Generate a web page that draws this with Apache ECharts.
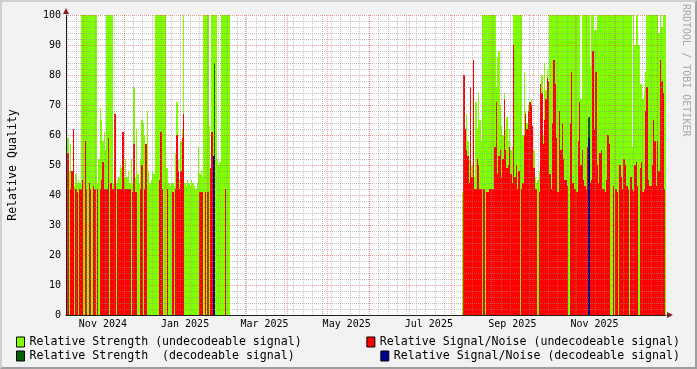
<!DOCTYPE html>
<html><head><meta charset="utf-8">
<script src="https://cdn.jsdelivr.net/npm/echarts@6/dist/echarts.min.js"></script>
<style>
html,body{margin:0;padding:0;background:#f2f2f2;}
#c{width:697px;height:369px;position:absolute;left:0;top:0;}
#frame{position:absolute;left:0;top:0;width:697px;height:369px;box-sizing:border-box;border-style:solid;border-width:2px;border-color:#cfcfcf #9e9e9e #9e9e9e #cfcfcf;pointer-events:none;}
</style></head><body>
<div id="c"></div><div id="frame"></div>
<script>
// ---- data (daily values) ----
const seg1Start = '2024-10-20';
const strength1 = [59,48,57,44,62,43,47,44,45,44,100,100,100,100,100,100,100,100,100,100,100,100,
  44,52,69,65,58,61,55,100,100,100,100,100,44,67,44,45,46,50,49,61,46,52,46,48,44,52,44,76,46,62,47,44,52,65,64,60,57,68,48,44,45,48,47,
  100,100,100,100,100,100,100,100,49,49,44,43,44,44,43,54,71,52,45,58,62,100,44,43,45,44,43,45,44,43,42,44,56,47,48,46,100,100,100,100,63,45,100,100,100,100,52,50,51,100,100,100,100,100,100,100];
const snr1 = [54,0,42,48,62,0,42,41,0,42,42,45,0,58,42,0,44,42,0,43,42,0,
  42,0,42,45,51,42,42,42,59,0,44,42,42,67,0,42,42,42,42,61,42,42,42,42,42,0,41,57,41,41,0,0,42,50,0,42,57,0,0,0,0,0,0,
  0,0,0,45,61,42,0,0,0,42,0,0,0,41,0,42,60,48,42,48,59,67,0,0,0,0,0,0,0,0,0,0,0,41,41,41,0,41,0,41,0,49,61,0,0,0,0,0,0,0,0,0,42,0,0];
const seg2Start = '2025-08-09';
const strength2 = [41,80,62,67,58,52,76,50,85,46,71,62,74,65,58,100,100,100,100,100,100,100,100,100,100,
  76,86,88,70,63,60,74,62,66,58,62,55,56,100,100,100,100,100,100,100,60,81,68,64,70,71,72,63,55,46,44,45,48,77,80,60,84,75,82,78,
  100,100,100,100,100,100,100,100,100,100,100,100,100,100,100,100,100,100,100,100,100,100,100,72,100,100,100,100,100,100,83,100,100,95,95,
  100,100,100,100,100,100,100,100,100,100,100,100,100,100,100,100,100,100,100,100,100,100,100,100,100,100,56,100,90,100,100,90,77,77,72,75,81,
  100,100,100,100,100,100,100,100,100,94,100,96,100,100,100];
const snr2 = [0,80,62,55,53,44,76,46,85,42,42,52,50,42,42,0,42,0,41,41,42,42,42,42,56,
  71,47,53,55,46,52,72,55,49,50,56,47,44,90,46,50,42,48,0,42,44,60,67,62,68,71,70,63,49,42,42,0,41,77,74,57,65,72,79,78,
  47,42,64,85,77,59,41,68,55,64,52,45,45,43,0,64,81,44,42,42,41,58,71,50,55,45,43,42,56,0,44,45,88,62,81,
  50,44,54,55,42,42,41,45,60,57,0,0,43,0,42,41,0,50,46,42,52,50,43,42,0,46,42,41,50,51,43,0,49,51,41,42,68,
  76,45,43,43,50,65,58,43,58,48,85,78,74,42,0];
const decDates = ['2025-02-05','2025-02-06','2025-11-11'];
const decStrength = [0,84,66];
const decSnr = [53,53,59];
const labelMonths = ['2024-11','2025-01','2025-03','2025-05','2025-07','2025-09','2025-11'];
const monthNames = ['Jan','Feb','Mar','Apr','May','Jun','Jul','Aug','Sep','Oct','Nov','Dec'];
const names = ['Relative Strength (undecodeable signal)','Relative Signal/Noise (undecodeable signal)',
  'Relative Strength  (decodeable signal)','Relative Signal/Noise (decodeable signal)'];
const colors = ['#80ff00','#ff0000','#006400','#00008b'];

// ---- helpers ----
const DAY = 86400000;
function ymd(s){const p=s.split('-').map(Number);return [p[0],p[1]-1,p[2]||1];}
function dayTs(s,i){const p=ymd(s);return Date.UTC(p[0],p[1],p[2]+i,12);}
function seg(s,arr){return arr.map((v,i)=>[dayTs(s,i),v]);}
const strengthData = seg(seg1Start,strength1).concat(seg(seg2Start,strength2));
const snrData = seg(seg1Start,snr1).concat(seg(seg2Start,snr2));
const decStrData = decDates.map((d,i)=>[dayTs(d,0),decStrength[i]]);
const decSnrData = decDates.map((d,i)=>[dayTs(d,0),decSnr[i]]);

const xMin = Date.UTC(2024,9,19,2);
const xMax = Date.UTC(2026,0,7,14);
const monthStarts = [];
for (let y=2024,m=10; ; m++) { if (m>11){m=0;y++;} const t=Date.UTC(y,m,1); if (t>xMax) break; monthStarts.push(t); }
const sundays = [];
for (let t=Date.UTC(2024,9,20); t<=xMax; t+=7*DAY) sundays.push(t);
const labelVals = labelMonths.map(s=>{const p=ymd(s);return Date.UTC(p[0],p[1],15,12);});

function barRenderer(color){
  return function(params, api){
    const t = api.value(0), v = api.value(1);
    if (!v) return null;
    const p0 = api.coord([t-DAY/2, v]);
    const p1 = api.coord([t+DAY/2, 0]);
    const x0 = Math.round(p0[0]), x1 = Math.round(p1[0]);
    const y0 = Math.round(p0[1]), y1 = Math.round(p1[1]);
    return {type:'rect', shape:{x:x0, y:y0, width:Math.max(1,x1-x0), height:y1-y0}, style:{fill:color}};
  };
}
const datasets = [strengthData, snrData, decStrData, decSnrData];
const series = names.map((n,i)=>({
  type:'custom', name:n, data:datasets[i], renderItem:barRenderer(colors[i]),
  itemStyle:{color:colors[i]}, encode:{x:0,y:1}, clip:true, z:1, silent:true
}));

const mono = 'DejaVu Sans Mono';
function legend(i, pos){
  return Object.assign({
    data:[names[i]], icon:'rect', itemWidth:8, itemHeight:10, padding:0, selectedMode:false,
    itemStyle:{borderColor:'#000', borderWidth:1},
    textStyle:{fontFamily:mono, fontSize:11.6, color:'#000'}
  }, pos);
}

const chart = echarts.init(document.getElementById('c'), null, {renderer:'canvas'});
chart.setOption({
  animation:false,
  backgroundColor:'#f2f2f2',
  grid:{left:66, right:31, top:15, bottom:54, show:true, backgroundColor:'#ffffff', borderWidth:0,
        containLabel:false, outerBoundsMode:'none'},
  xAxis:[
    {type:'value', min:xMin, max:xMax, position:'bottom', z:4,
     axisLine:{show:true, onZero:false, lineStyle:{color:'#1f1f1f', width:1}},
     axisTick:{show:false, customValues:monthStarts},
     axisLabel:{customValues:labelVals, color:'#000', fontFamily:mono, fontSize:10, margin:4,
       formatter:(v)=>{const d=new Date(v);return monthNames[d.getUTCMonth()]+' '+d.getUTCFullYear();}},
     splitLine:{show:true, lineStyle:{color:'rgba(222,79,79,0.55)', width:1, type:[1,1]}}
    },
    {type:'value', min:xMin, max:xMax, position:'bottom', z:3,
     axisLine:{show:true, onZero:false, symbol:['none','triangle'], symbolSize:[6,6], symbolOffset:[0,4],
       lineStyle:{color:'#801f1f', width:0}},
     axisTick:{show:false, customValues:sundays},
     axisLabel:{show:false},
     splitLine:{show:true, lineStyle:{color:'rgba(143,143,143,0.55)', width:1, type:[1,1]}}
    }
  ],
  yAxis:[
    {type:'value', min:0, max:100, interval:10, position:'left', z:4,
     name:'Relative Quality', nameLocation:'middle', nameRotate:90, nameGap:47,
     nameTextStyle:{fontFamily:mono, fontSize:11.6, color:'#000'},
     axisLine:{show:true, lineStyle:{color:'#1f1f1f', width:1}},
     axisTick:{show:false},
     axisLabel:{color:'#000', fontFamily:mono, fontSize:10, margin:5},
     splitLine:{show:true, lineStyle:{color:'rgba(222,79,79,0.55)', width:1, type:[1,1]}},
     minorTick:{show:false, splitNumber:5},
     minorSplitLine:{show:true, lineStyle:{color:'rgba(143,143,143,0.55)', width:1, type:[1,1]}}
    },
    {type:'value', min:0, max:100, position:'left', z:3,
     axisLine:{show:true, symbol:['none','triangle'], symbolSize:[6,6], symbolOffset:[0,4],
       lineStyle:{color:'#801f1f', width:0}},
     axisTick:{show:false}, axisLabel:{show:false}, splitLine:{show:false}
    }
  ],
  legend:[
    legend(0,{left:16, top:336}),
    legend(1,{right:17, top:336}),
    legend(2,{left:16, top:350}),
    legend(3,{right:17, top:350})
  ],
  graphic:[{type:'text', x:686, y:4, rotation:-Math.PI/2,
    style:{text:'RRDTOOL / TOBI OETIKER', fill:'#a8a8a8', font:'10px "DejaVu Sans Mono"', textAlign:'left', textVerticalAlign:'middle'}}],
  series: series
});
</script></body></html>
